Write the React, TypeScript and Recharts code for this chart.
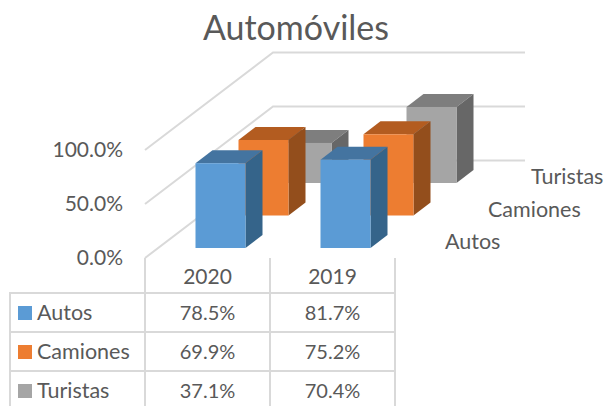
import { BarChart, Bar, XAxis, YAxis, ReferenceLine } from "recharts"

const years = ["2020", "2019"]
const autos = [78.5, 81.7]
const camiones = [69.9, 75.2]
const turistas = [37.1, 70.4]
const yTicks = [0, 50, 100]
const seriesNames = ["Autos", "Camiones", "Turistas"]
const seriesColors = ["#5B9BD5", "#ED7D31", "#A5A5A5"]
const seriesValues = [autos, camiones, turistas]

const data = years.map((year, i) => ({
  year,
  Autos: autos[i],
  Camiones: camiones[i],
  Turistas: turistas[i],
}))

const FONT = "Lato, Carlito, sans-serif"
const TEXT = "#595959"
const LINE = "#d9d9d9"

// fake 3D: how far the back wall sits from the front plane
const WALL_DX = 128
const WALL_DY = 97.5
const BAR_DX = 17
const BAR_DY = 13
const BAR_W = 50

const faces: Record<string, { top: string; side: string }> = {
  Autos: { top: "#4474A0", side: "#35648A" },
  Camiones: { top: "#B35C20", side: "#934E1C" },
  Turistas: { top: "#7E7E7E", side: "#676767" },
}

// offset of each series along the depth axis
const depth: Record<string, [number, number]> = {
  Autos: [12.5, -10],
  Camiones: [55.5, -42.5],
  Turistas: [98.5, -75],
}

function box(name: string, fill: string) {
  return (props: any) => {
    const [ox, oy] = depth[name]
    const x = props.x + ox
    const y = props.y + oy
    const w = props.width
    const h = props.height
    const f = faces[name]
    return (
      <g>
        <polygon
          points={`${x},${y} ${x + BAR_DX},${y - BAR_DY} ${x + w + BAR_DX},${y - BAR_DY} ${x + w},${y}`}
          fill={f.top}
        />
        <polygon
          points={`${x + w},${y} ${x + w + BAR_DX},${y - BAR_DY} ${x + w + BAR_DX},${y + h - BAR_DY} ${x + w},${y + h}`}
          fill={f.side}
        />
        <rect x={x} y={y} width={w} height={h} fill={fill} />
      </g>
    )
  }
}

function WallLine(props: any) {
  const { x1, x2, y1 } = props
  return (
    <polyline
      points={`${x1},${y1} ${x1 + WALL_DX},${y1 - WALL_DY} ${x2 + 130},${y1 - WALL_DY}`}
      fill="none"
      stroke={LINE}
      strokeWidth={2}
    />
  )
}

function FloorLine(props: any) {
  const { x2, y1 } = props
  return (
    <g>
      <WallLine {...props} />
      {seriesNames.map((name, i) => (
        <text
          key={name}
          x={x2 + 50 + i * 43}
          y={y1 - 9 - i * 32.5}
          fontFamily={FONT}
          fontSize={21.5}
          fill={TEXT}
        >
          {name}
        </text>
      ))}
    </g>
  )
}

function YearTick(props: any) {
  const { x, y, payload } = props
  return (
    <g>
      <line x1={x - 62.5} x2={x - 62.5} y1={y - 8} y2={y + 28} stroke={LINE} strokeWidth={2} />
      <line x1={x + 62.5} x2={x + 62.5} y1={y - 8} y2={y + 28} stroke={LINE} strokeWidth={2} />
      <text x={x} y={y + 18} textAnchor="middle" fontFamily={FONT} fontSize={21} fill={TEXT}>
        {payload.value}
      </text>
    </g>
  )
}

const cell = {
  borderTop: `2px solid ${LINE}`,
  borderLeft: `2px solid ${LINE}`,
  height: 35,
  padding: "0 0 2px 0",
  textAlign: "center" as const,
  boxSizing: "content-box" as const,
}

function DataTable() {
  return (
    <table
      style={{
        position: "absolute",
        left: 9,
        top: 292,
        borderCollapse: "separate",
        borderSpacing: 0,
        tableLayout: "fixed",
        width: 387,
        fontFamily: FONT,
        fontSize: 20,
        color: TEXT,
      }}
    >
      <colgroup>
        <col style={{ width: 135 }} />
        <col style={{ width: 125 }} />
        <col style={{ width: 127 }} />
      </colgroup>
      <tbody>
        {seriesNames.map((name, r) => (
          <tr key={name}>
            <td style={{ ...cell, textAlign: "left", paddingLeft: 7, fontSize: 21.5, whiteSpace: "nowrap" }}>
              <span
                style={{
                  display: "inline-block",
                  width: 14,
                  height: 14,
                  marginRight: 5,
                  background: seriesColors[r],
                }}
              />
              {name}
            </td>
            {seriesValues[r].map((v, c) => (
              <td
                key={years[c]}
                style={{ ...cell, borderRight: c === 1 ? `2px solid ${LINE}` : undefined }}
              >
                {v.toFixed(1)}%
              </td>
            ))}
          </tr>
        ))}
      </tbody>
    </table>
  )
}

export default function App() {
  return (
    <div
      style={{
        position: "absolute",
        left: 0,
        top: 0,
        width: 608,
        height: 406,
        overflow: "hidden",
        background: "#fff",
      }}
    >
      <div
        style={{
          position: "absolute",
          left: 0,
          top: 6,
          width: 592,
          textAlign: "center",
          fontFamily: FONT,
          fontSize: 34,
          color: TEXT,
        }}
      >
        Automóviles
      </div>
      <BarChart
        width={608}
        height={406}
        data={data}
        barSize={BAR_W}
        barGap={-BAR_W}
        margin={{ top: 150, right: 213, bottom: 118, left: 45 }}
      >
        <XAxis dataKey="year" height={30} axisLine={false} tickLine={false} tick={<YearTick />} />
        <YAxis
          width={100}
          domain={[0, 100]}
          ticks={yTicks}
          axisLine={false}
          tickLine={false}
          tickMargin={16}
          tickFormatter={(v: number) => `${v.toFixed(1)}%`}
          tick={{ fontFamily: FONT, fontSize: 21, fill: TEXT }}
        />
        <ReferenceLine y={100} shape={WallLine} zIndex={-100} />
        <ReferenceLine y={50} shape={WallLine} zIndex={-100} />
        <ReferenceLine y={0} shape={FloorLine} zIndex={-100} />
        <Bar dataKey="Turistas" isAnimationActive={false} shape={box("Turistas", seriesColors[2])} />
        <Bar dataKey="Camiones" isAnimationActive={false} shape={box("Camiones", seriesColors[1])} />
        <Bar dataKey="Autos" isAnimationActive={false} shape={box("Autos", seriesColors[0])} />
      </BarChart>
      <DataTable />
    </div>
  )
}
